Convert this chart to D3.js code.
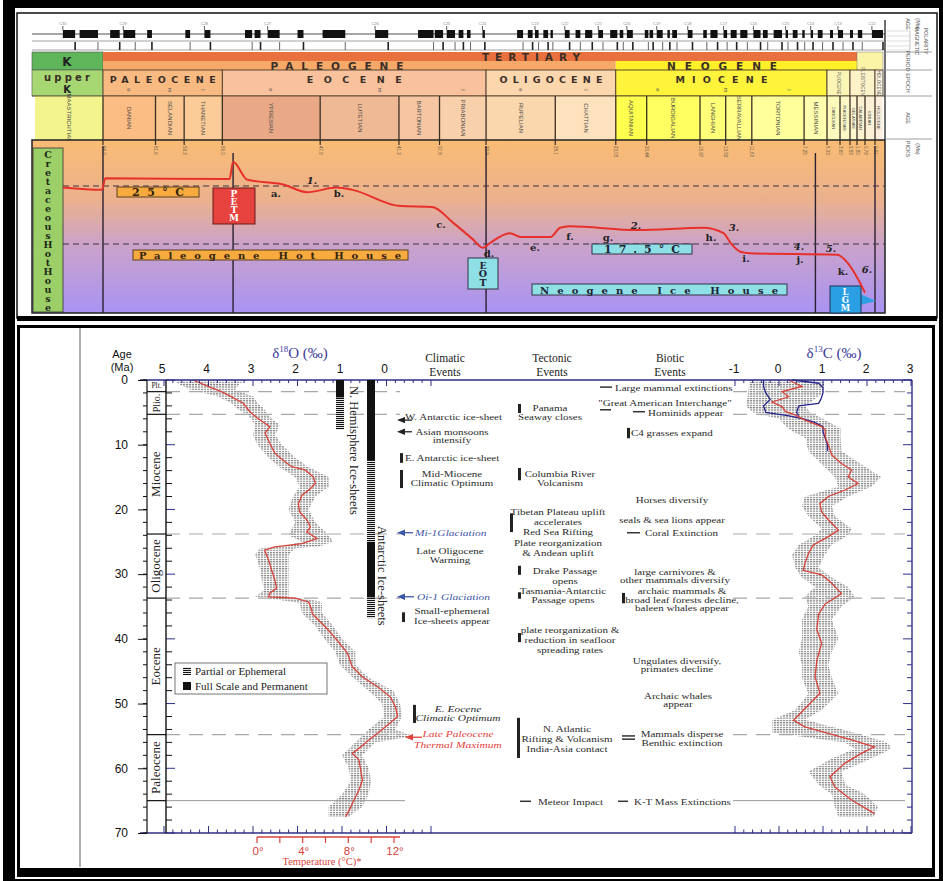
<!DOCTYPE html>
<html>
<head>
<meta charset="utf-8">
<script src="https://cdn.jsdelivr.net/npm/d3@7"></script>
<style>
  body { margin: 0; background: #fff; }
  svg { display: block; }
</style>
</head>
<body>
<div id="chart"></div>
<script>
// ---------- top panel: geologic time scale + temperature curve ----------
const stageNames = ["MAASTRICHTIAN", "DANIAN", "SELANDIAN", "THANETIAN", "YPRESIAN", "LUTETIAN",
  "BARTONIAN", "PRIABONIAN", "RUPELIAN", "CHATTIAN", "AQUITANIAN", "BURDIGALIAN", "LANGHIAN",
  "SERRAVALLIAN", "TORTONIAN", "MESSINIAN", "ZANCLEAN", "PIACENZIAN", "GELASIAN", "CALABRIAN",
  "IONIAN", "HOLOCENE"]
const stageBase = [72.1, 66, 61.6, 59.2, 56, 47.8, 41.2, 37.8, 33.9, 28.1, 23.03, 20.44, 15.97,
  13.82, 11.63, 7.25, 5.33, 3.6, 2.58, 1.8, 0.78, 0.0117]
const stageTickLabels = ["66.0", "61.6", "59.2", "56.0", "47.8", "41.2", "37.8", "33.9", "28.1", "23.03",
  "20.44", "15.97", "13.82", "11.63", "7.25", "5.33", "3.60", "2.58", "1.80", "0.78", "0.01"]
const stageColors = ["#f2f58e", "#fbbd84", "#fbc690", "#fccc98", "#e9a986", "#f0b995", "#f6c6a2",
  "#f9d0ac", "#fbd7ae", "#fde2bd", "#ffff4e", "#ffff62", "#ffff78", "#ffff8a", "#ffff9c", "#ffffae",
  "#fbf9bc", "#fbf8c6", "#fdf6cf", "#fcf2d2", "#fcf0d6", "#fdf0de"]

const epochNames = ["PALEOCENE", "EOCENE", "OLIGOCENE", "MIOCENE", "PLIOCENE", "PLEISTOCENE", "HOLOCENE"]
const epochBase = [66, 56, 33.9, 23.03, 5.33, 2.58, 0.0117]
const epochColors = ["#f9ba82", "#f9c29c", "#fcd6ad", "#fff33c", "#fbf6b6", "#fdf3c9", "#fdf3de"]
const subEpochs = [["e", 66, 61.6], ["m", 61.6, 59.2], ["l", 59.2, 56], ["e", 56, 47.8], ["m", 47.8, 37.8],
  ["l", 37.8, 33.9], ["e", 33.9, 28.1], ["l", 28.1, 23.03], ["e", 23.03, 15.97], ["m", 15.97, 11.63],
  ["l", 11.63, 5.33]]

// normal-polarity chrons [older, younger] in Ma
const normalChrons = [[69.6, 68.5], [68.1, 66.45], [65.4, 64.6], [64.3, 63.3], [62.3, 61.9], [59.1, 58.7],
  [57.5, 57.0], [54.1, 53.5], [53.3, 52.8], [52.2, 51.2], [49.7, 49.2], [47.6, 45.7], [43.2, 42.1],
  [39.6, 38.3], [38.2, 37.5], [37.2, 36.5], [36.2, 35.8], [35.5, 35.2], [34.2, 34.0], [31.3, 30.8],
  [30.4, 30.0], [29.8, 29.5], [29.1, 28.7], [28.5, 28.3], [27.3, 26.9], [26.4, 26.0], [25.6, 25.0],
  [24.5, 24.1], [23.5, 22.9], [22.7, 22.4], [22.1, 21.6], [20.6, 20.3], [20.2, 19.9], [19.6, 19.1],
  [18.7, 18.5], [18.3, 17.9], [17.0, 16.6], [15.7, 15.4], [15.1, 14.5], [14.0, 13.7], [13.4, 12.9],
  [12.6, 12.0], [11.5, 10.9], [10.7, 10.3], [9.8, 9.1], [8.8, 8.6], [8.2, 7.8], [7.4, 7.2], [6.7, 6.5],
  [6.1, 5.7], [4.93, 4.53], [3.87, 3.29], [2.58, 2.25], [1.69, 1.13], [0.25, 0]]

// global temperature curve [age Ma, deg C]
const tempCurve = [[69.6, 24.8], [66.1, 24.5], [65.8, 26.0], [55.4, 25.9], [55.1, 28.1], [53.9, 25.8],
  [50.9, 25.2], [48.9, 24.2], [46.4, 24.8], [45.1, 24.5], [41.1, 22.4], [38.4, 22.3], [36.7, 20.3],
  [35.0, 18.1], [34.15, 17.0], [33.6, 17.6], [31.9, 18.9], [31.0, 18.4], [28.5, 18.4], [27.7, 19.6],
  [26.9, 19.8], [21.2, 19.3], [15.7, 19.6], [14.0, 18.9], [13.4, 17.6], [12.6, 16.5], [11.8, 16.3],
  [4.0, 16.1], [2.78, 15.0], [1.8, 13.2], [0.78, 11.2]]
const tempRefs = [25, 17.5]
const eventLines = [66, 55.1, 33.9, 6.3, 0.0117]

// ---------- bottom panel: Cenozoic isotope records ----------
// smoothed d18O [age, permil]
const d18oMean = [[0, 4.35], [1, 4.01], [1.8, 3.71], [2.6, 3.48], [3.6, 3.22], [4.9, 3.07], [6, 2.88],
  [7.2, 2.62], [8.2, 2.73], [9.8, 2.62], [11.3, 2.51], [12.6, 2.29], [13.4, 2.13], [13.9, 1.83],
  [15, 1.64], [16, 1.6], [16.8, 1.71], [17.8, 1.9], [19.1, 1.98], [20.4, 1.95], [21.6, 1.79],
  [22.7, 1.71], [23.5, 1.79], [24.5, 1.56], [25.3, 1.9], [25.8, 2.51], [26.3, 2.74], [27.8, 2.65],
  [29.4, 2.58], [30.9, 2.51], [32.2, 2.47], [32.9, 2.62], [33.5, 2.65], [33.7, 2.05], [34.3, 1.75],
  [35.5, 1.68], [36.1, 1.67], [38.1, 1.38], [40.2, 1.11], [42.2, 0.88], [44.3, 0.77], [45.9, 0.54],
  [47.4, 0.2], [49, -0.09], [50.5, -0.2], [52, -0.25], [53.1, -0.06], [54.6, 0.2], [55.6, 0.39],
  [56.7, 0.58], [57.7, 0.77], [58.7, 0.62], [60.3, 0.58], [61.8, 0.54], [63.4, 0.62], [64.9, 0.73],
  [66.5, 0.84], [67.5, 0.92]]
// spread of the d18O data points [age, high, low]
const d18oSpread = [[0, 4.8, 3.1], [0.5, 4.7, 3.3], [1.5, 4.4, 3.4], [2.5, 3.8, 3.0], [3.5, 3.5, 2.9],
  [4.5, 3.35, 2.75], [5.5, 3.1, 2.65], [7, 2.95, 2.4], [8.5, 3.0, 2.5], [10, 2.9, 2.35], [12, 2.65, 2.05],
  [13.5, 2.4, 1.75], [15, 2.05, 1.3], [16.5, 1.95, 1.3], [18, 2.1, 1.6], [20, 2.2, 1.75], [22, 2.05, 1.6],
  [24, 2.2, 1.3], [25, 1.9, 1.2], [25.7, 2.3, 1.5], [26, 2.85, 2.05], [27, 2.95, 2.2], [29, 2.85, 2.2],
  [31, 2.8, 2.2], [32.5, 2.75, 2.2], [33.5, 2.95, 2.2], [34.2, 2.2, 1.5], [34.5, 1.95, 1.45],
  [36, 1.9, 1.45], [38, 1.6, 1.2], [40, 1.4, 1.0], [42, 1.15, 0.7], [44, 1.05, 0.7], [46, 0.75, 0.4],
  [48, 0.4, -0.15], [50, 0.1, -0.3], [52, 0.05, -0.35], [54, 0.4, -0.2], [55, 0.55, -0.6],
  [56, 0.7, 0.25], [58, 1.0, 0.55], [60, 0.85, 0.4], [62, 0.8, 0.35], [64, 1.0, 0.4], [66, 1.3, 0.55],
  [67.5, 1.3, 0.85]]
// smoothed d13C [age, permil]
const d13cMean = [[0, 0.22], [1, 0.52], [1.8, 0.07], [2.6, 0.22], [3.4, -0.16], [4.1, 0.07], [4.9, 0.15],
  [5.4, 0.37], [6.2, 0.59], [7.2, 0.97], [7.7, 1.05], [8.8, 1.05], [10, 1.12], [11.6, 1.2], [12.9, 1.42],
  [13.9, 1.65], [15, 1.57], [16, 1.8], [17, 1.5], [18, 1.12], [19.1, 0.93], [20.4, 0.97], [21.6, 1.12],
  [23.2, 1.35], [24.2, 1.12], [25.5, 0.78], [26.8, 0.67], [28.3, 0.59], [29.4, 0.55], [30.1, 0.97],
  [31.4, 1.2], [33, 1.42], [33.5, 1.31], [34.6, 1.05], [36.2, 0.9], [38.6, 0.86], [40.7, 0.97],
  [43.3, 0.86], [45.9, 0.82], [48.4, 0.93], [50.5, 0.63], [52.6, 0.33], [53.6, 0.59], [54.6, 1.12],
  [55.6, 1.65], [56.7, 2.17], [57.7, 1.87], [59.2, 1.5], [61.3, 1.16], [62.9, 1.27], [64.9, 1.65],
  [67, 2.17]]
// spread of the d13C data points [age, low, high]
const d13cSpread = [[0, -0.7, 1.0], [0.5, -0.68, 1.04], [2, -0.7, 1.0], [4, -0.75, 0.6], [5, -0.6, 0.7],
  [6, 0.0, 1.0], [7.5, 0.2, 1.4], [9, 0.6, 1.4], [11, 0.67, 1.42], [13, 0.97, 1.87], [15, 1.27, 2.32],
  [16.5, 1.35, 2.1], [18, 0.59, 1.57], [19.5, 0.52, 1.2], [21, 0.67, 1.27], [23, 0.97, 1.65],
  [24, 0.82, 1.57], [25.5, 0.45, 1.2], [27, 0.3, 1.04], [29, 0.37, 0.9], [30.5, 0.52, 1.2],
  [32, 0.82, 1.57], [33.5, 0.59, 1.72], [35, 0.67, 1.42], [37, 0.52, 1.2], [40, 0.52, 1.35],
  [42, 0.45, 1.2], [44, 0.52, 1.12], [46, 0.52, 1.2], [48.5, 0.67, 1.35], [51, 0.37, 0.97],
  [52.5, -0.15, 0.59], [54.5, -0.15, 1.72], [56, 1.5, 2.47], [57, 1.72, 2.55], [58.5, 1.2, 2.1],
  [60.5, 0.67, 1.42], [62.5, 0.9, 1.5], [64, 1.2, 1.95], [66, 1.27, 2.25], [67.5, 1.35, 2.15]]
// second (blue) d13C record, last ~11 Myr
const d13cBlueA = [[0, -0.35], [1, -0.35], [2, -0.3], [3, -0.2], [4, -0.35], [5, -0.3], [5.5, 0.2],
  [6, 0.55], [6.5, 0.8], [7.2, 1.0], [8, 1.0], [9, 1.05], [10, 1.1], [11, 1.1]]
const d13cBlueB = [[0, 0.3], [0.5, 0.9], [1.2, 1.0], [2, 1.0], [3, 0.95], [3.6, 0.9], [4, 0.45],
  [5, 0.4], [5.5, 0.45]]

const epochColumn = [["Plt.", 0, 1.8], ["Plio.", 1.8, 5.3], ["Miocene", 5.3, 23.8], ["Oligocene", 23.8, 33.7],
  ["Eocene", 33.7, 54.8], ["Paleocene", 54.8, 65]]
const dashedAges = [1.8, 5.3, 23.8, 33.7, 54.8]
const solidAges = [65]

// ice sheets [from, to, kind]
const nhIce = [[0, 2.7, "full"], [2.7, 7.7, "partial"]]
const antIce = [[0, 12.5, "full"], [12.5, 25, "partial"], [25, 33.6, "full"], [33.6, 36.8, "partial"]]

// events: text lines, age of first line, marker kind, marker age(s)
const climaticEvents = [
  { t: ["W. Antarctic ice-sheet"], age: 5.7, mark: "arrow", m: [6.2] },
  { t: ["Asian monsoons", "intensify"], age: 7.9, mark: "arrow", m: [8.0] },
  { t: ["E. Antarctic ice-sheet"], age: 12.06, mark: "bar", m: [11.3, 12.8] },
  { t: ["Mid-Miocene", "Climatic Optimum"], age: 14.5, mark: "bar", m: [13.9, 16.7] },
  { t: ["Mi-1Glaciation"], age: 23.6, mark: "arrowBlue", m: [23.6], kind: "glac" },
  { t: ["Late Oligocene", "Warming"], age: 26.3 },
  { t: ["Oi-1 Glaciation"], age: 33.5, mark: "arrowBlue", m: [33.5], kind: "glac" },
  { t: ["Small-ephemeral", "Ice-sheets appear"], age: 35.6, mark: "bar", m: [35.9, 37.4] },
  { t: ["E. Eocene", "Climatic Optimum"], age: 50.85, mark: "bar", m: [50.2, 53.0], kind: "ital" },
  { t: ["Late Paleocene", "Thermal Maximum"], age: 54.6, mark: "arrowRed", m: [55.2], kind: "petm" }
]
const tectonicEvents = [
  { t: ["Panama", "Seaway closes"], age: 4.2, mark: "bar", m: [3.7, 5.1] },
  { t: ["Columbia River", "Volcanism"], age: 14.4, mark: "bar", m: [13.6, 15.5] },
  { t: ["Tibetan Plateau uplift", "accelerates", "Red Sea Rifting"], age: 20.4, mark: "bar", m: [20.6, 23.5] },
  { t: ["Plate reorganization", "& Andean uplift"], age: 25.2 },
  { t: ["Drake Passage", "opens"], age: 29.4, mark: "bar", m: [28.7, 30.1] },
  { t: ["Tasmania-Antarctic", "Passage opens"], age: 32.5, mark: "bar", m: [32.8, 33.8] },
  { t: ["plate reorganization &", "reduction in seafloor", "spreading rates"], age: 38.5, mark: "bar", m: [39.1, 40.5] },
  { t: ["N. Atlantic", "Rifting & Volcanism", "India-Asia contact"], age: 53.8, mark: "bar", m: [52.2, 58.4] },
  { t: ["Meteor Impact"], age: 65.1, mark: "dash", m: [65.1] }
]
const bioticEvents = [
  { t: ["Large mammal extinctions"], age: 1.1, mark: "dash", m: [1.1] },
  { t: ["\"Great American Interchange\""], age: 3.55, mark: "dash", m: [4.6] },
  { t: ["Hominids appear"], age: 5.0, mark: "dash", m: [4.9] },
  { t: ["C4 grasses expand"], age: 8.2, mark: "bar", m: [7.4, 9.0] },
  { t: ["Horses diversify"], age: 18.5 },
  { t: ["seals & sea lions appear"], age: 21.6 },
  { t: ["Coral Extinction"], age: 23.6, mark: "dash", m: [23.6] },
  { t: ["large carnivores &", "other mammals diversify"], age: 29.6 },
  { t: ["archaic mammals &", "broad leaf forests decline,", "baleen whales appear"], age: 32.6, mark: "bar", m: [32.9, 34.5] },
  { t: ["Ungulates diversify,", "primates decline"], age: 43.3 },
  { t: ["Archaic whales", "appear"], age: 48.7 },
  { t: ["Mammals disperse", "Benthic extinction"], age: 54.6, mark: "dash2", m: [55.0, 55.5] },
  { t: ["K-T Mass Extinctions"], age: 65.1, mark: "dash", m: [65.1] }
]

// layout for event columns: [text x, anchor, marker x0, marker x1, line gap]
const climaticLayout = [[405, "start", 397, 412, 9], [452, "middle", 397, 412, 8.5], [405, "start", 400, 0, 9],
  [452, "middle", 400, 0, 9], [415, "start", 397, 413, 9], [450, "middle", 0, 0, 9], [417, "start", 397, 414, 9],
  [452, "middle", 402, 0, 10], [458, "middle", 413, 0, 9], [458, "middle", 405, 422, 11]]
const tectonicLayout = [[550, "middle", 518, 0, 9], [560, "middle", 518, 0, 9], [558, "middle", 510, 0, 10],
  [558, "middle", 0, 0, 10], [565, "middle", 518, 0, 10], [563, "middle", 518, 0, 9],
  [570, "middle", 518, 0, 10], [567, "middle", 517, 0, 10], [538, "start", 520, 531, 9]]
const bioticLayout = [[615, "start", 600, 612, 9], [665, "middle", 600, 611, 9], [648, "start", 633, 645, 9],
  [631, "start", 627, 0, 9], [672, "middle", 0, 0, 9], [672, "middle", 0, 0, 9], [645, "start", 627, 640, 9],
  [675, "middle", 0, 0, 8], [682, "middle", 622, 0, 8.5], [677, "middle", 0, 0, 8], [678, "middle", 0, 0, 8],
  [682, "middle", 622, 635, 9], [634, "start", 618, 628, 9]]

const d18oTickLabels = [5, 4, 3, 2, 1, 0]
const d13cTickLabels = [-1, 0, 1, 2, 3]
const tempTicks = [0, 2, 4, 6, 8, 10, 12]
const tempLabels = [0, 4, 8, 12]
const ageLabels = [0, 10, 20, 30, 40, 50, 60, 70]

const SERIF = "'Liberation Serif','Times New Roman',serif"
const SANS = "'Liberation Sans',Arial,sans-serif"
const BSERIF = "'DejaVu Serif',serif"
const WIDE = "'DejaVu Sans',sans-serif"
const NAVY = "#2f2f86"
const RED = "#d8423b"

const svg = d3.select("#chart").append("svg")
  .attr("width", 943)
  .attr("height", 881)
  .style("font-family", SERIF)

const defs = svg.append("defs")
const grad = defs.append("linearGradient").attr("id", "hot")
  .attr("x1", 0).attr("y1", 0).attr("x2", 0).attr("y2", 1)
grad.append("stop").attr("offset", "0%").attr("stop-color", "#f9bc74")
grad.append("stop").attr("offset", "35%").attr("stop-color", "#ebb18e")
grad.append("stop").attr("offset", "62%").attr("stop-color", "#c9a2cc")
grad.append("stop").attr("offset", "100%").attr("stop-color", "#a993f3")

const scat = defs.append("pattern").attr("id", "scat").attr("width", 3).attr("height", 2.3)
  .attr("patternUnits", "userSpaceOnUse")
scat.append("rect").attr("width", 2.2).attr("height", 1.2).attr("fill", "#868686")

const part = defs.append("pattern").attr("id", "partial").attr("width", 8).attr("height", 2)
  .attr("patternUnits", "userSpaceOnUse")
part.append("rect").attr("width", 8).attr("height", 1.1).attr("fill", "#111")

// ---- frames
svg.append("rect").attr("x", 3).attr("y", 0).attr("width", 12).attr("height", 881).attr("fill", "#000")
svg.append("rect").attr("x", 3).attr("y", 0).attr("width", 940).attr("height", 8).attr("fill", "#000")
svg.append("rect").attr("x", 939).attr("y", 0).attr("width", 4).attr("height", 881).attr("fill", "#000")
svg.append("rect").attr("x", 3).attr("y", 879).attr("width", 940).attr("height", 2).attr("fill", "#000")

// upright letters stacked top-to-bottom, one text run
// (vertical advance of an upright glyph is about 1.164 em in DejaVu Serif)
function stack(g, str, x, yTop, step, size, fill) {
  return g.append("text").attr("x", x).attr("y", yTop)
    .style("writing-mode", "vertical-rl").style("text-orientation", "upright")
    .style("letter-spacing", (step - 1.164 * size).toFixed(2) + "px")
    .attr("font-size", size).attr("font-weight", "bold").attr("font-family", BSERIF)
    .attr("fill", fill).text(str)
}

// =================== TOP PANEL ===================
const topG = svg.append("g")
topG.append("rect").attr("x", 17).attr("y", 13).attr("width", 920).attr("height", 305)
  .attr("fill", "#fff").attr("stroke", "#111").attr("stroke-width", 1.5)
topG.append("rect").attr("x", 17).attr("y", 316).attr("width", 920).attr("height", 5).attr("fill", "#000")

const xg = d3.scaleLinear()
  .domain([72.1, 66, 5.33, 3.6, 2.58, 1.8, 0.78, 0.0117, 0])
  .range([35, 103, 827, 840, 850, 857, 865, 875, 883])
const yT = d3.scaleLinear().domain([25, 17.5]).range([186, 244])

// magnetic polarity strip
topG.append("line").attr("x1", 32).attr("x2", 885).attr("y1", 34).attr("y2", 34)
  .attr("stroke", "#222").attr("stroke-width", 0.8)
topG.selectAll(".chron").data(normalChrons).join("rect")
  .attr("x", d => xg(d[0])).attr("width", d => Math.max(1, xg(d[1]) - xg(d[0])))
  .attr("y", 30).attr("height", 8).attr("fill", "#111")
topG.selectAll(".chtick").data(normalChrons.filter((d, i) => i % 3 === 0)).join("line")
  .attr("x1", d => xg(d[0])).attr("x2", d => xg(d[0])).attr("y1", 26).attr("y2", 30)
  .attr("stroke", "#333").attr("stroke-width", 0.8)
topG.selectAll(".chtxt").data(normalChrons.filter((d, i) => i % 3 === 0)).join("text")
  .attr("x", d => xg(d[0])).attr("y", 25).attr("text-anchor", "middle")
  .attr("font-size", 4).attr("fill", "#888").attr("font-family", SANS)
  .text((d, i) => "C" + (30 - i))
topG.append("line").attr("x1", 32).attr("x2", 885).attr("y1", 41).attr("y2", 41).attr("stroke", "#666").attr("stroke-width", 0.6)
topG.append("line").attr("x1", 32).attr("x2", 885).attr("y1", 50).attr("y2", 50).attr("stroke", "#666").attr("stroke-width", 0.6)
topG.selectAll(".row2").data(normalChrons).join("line")
  .attr("x1", d => xg(d[1])).attr("x2", d => xg(d[1])).attr("y1", 42).attr("y2", 50)
  .attr("stroke", "#222").attr("stroke-width", (d, i) => i % 2 ? 0.7 : 1.6)

// period rows
topG.append("rect").attr("x", 32).attr("y", 52).attr("width", 71).attr("height", 18).attr("fill", "#5fb559").attr("stroke", "#555").attr("stroke-width", 0.6)
topG.append("rect").attr("x", 32).attr("y", 70).attr("width", 71).attr("height", 26).attr("fill", "#a7d773").attr("stroke", "#555").attr("stroke-width", 0.6)
topG.append("rect").attr("x", xg(66)).attr("y", 52).attr("width", xg(1.8) - xg(66)).attr("height", 9).attr("fill", "#e8713d")
topG.append("rect").attr("x", xg(66)).attr("y", 61).attr("width", xg(23.03) - xg(66)).attr("height", 9).attr("fill", "#f6a968")
topG.append("rect").attr("x", xg(23.03)).attr("y", 61).attr("width", xg(1.8) - xg(23.03)).attr("height", 9).attr("fill", "#fff02a")
topG.append("rect").attr("x", xg(1.8)).attr("y", 52).attr("width", xg(0) - xg(1.8)).attr("height", 18).attr("fill", "#fbf4a6").attr("stroke", "#777").attr("stroke-width", 0.5)

function wideText(g, str, cx, y, len, size, fam, weight) {
  return g.append("text").attr("x", cx - len / 2).attr("y", y)
    .attr("textLength", len).attr("lengthAdjust", "spacing")
    .attr("font-size", size).attr("font-family", fam).attr("font-weight", weight || "bold")
    .attr("fill", "#3a2e28").text(str)
}
wideText(topG, "TERTIARY", 531, 60.5, 98, 10.5, WIDE)
wideText(topG, "PALEOGENE", 337, 69.5, 133, 10.5, WIDE)
wideText(topG, "NEOGENE", 722, 69.5, 110, 10.5, WIDE)
topG.append("text").attr("x", 67).attr("y", 65.5).attr("text-anchor", "middle").attr("font-size", 12)
  .attr("font-weight", "bold").attr("font-family", WIDE).attr("fill", "#222").text("K")
wideText(topG, "upper", 67, 81, 46, 10, WIDE)
topG.append("text").attr("x", 67).attr("y", 93).attr("text-anchor", "middle").attr("font-size", 10)
  .attr("font-weight", "bold").attr("font-family", WIDE).attr("fill", "#222").text("K")

// epoch row
topG.selectAll(".epoch").data(epochNames).join("rect")
  .attr("x", (d, i) => xg(epochBase[i]))
  .attr("width", (d, i) => xg(i + 1 < epochBase.length ? epochBase[i + 1] : 0) - xg(epochBase[i]))
  .attr("y", 70).attr("height", 26)
  .attr("fill", (d, i) => epochColors[i]).attr("stroke", "#4a3a2a").attr("stroke-width", 0.9)
const epochTextLen = [106, 95, 103, 92]
epochNames.forEach((name, i) => {
  const x0 = xg(epochBase[i])
  const x1 = xg(i + 1 < epochBase.length ? epochBase[i + 1] : 0)
  if (i < 4) {
    wideText(topG, name, (x0 + x1) / 2, 83, epochTextLen[i], 9.5, WIDE)
  } else {
    topG.append("text").attr("transform", `translate(${(x0 + x1) / 2 - 2},83) rotate(90)`)
      .attr("text-anchor", "middle").attr("font-size", 4.5).attr("font-family", SANS)
      .attr("fill", "#555").text(name)
  }
})
topG.selectAll(".sub").data(subEpochs).join("text")
  .attr("transform", d => `translate(${(xg(d[1]) + xg(d[2])) / 2 - 2},90) rotate(90)`)
  .attr("text-anchor", "middle").attr("font-size", 6).attr("font-family", SANS).attr("fill", "#555")
  .text(d => d[0])

// stage row
topG.selectAll(".stage").data(stageNames).join("rect")
  .attr("x", (d, i) => xg(stageBase[i]))
  .attr("width", (d, i) => xg(i + 1 < stageBase.length ? stageBase[i + 1] : 0) - xg(stageBase[i]))
  .attr("y", 96).attr("height", 44)
  .attr("fill", (d, i) => stageColors[i])
topG.selectAll(".stageTxt").data(stageNames).join("text")
  .attr("transform", (d, i) => {
    const cx = (xg(stageBase[i]) + xg(i + 1 < stageBase.length ? stageBase[i + 1] : 0)) / 2
    return `translate(${cx - 2},118) rotate(90)`
  })
  .attr("text-anchor", "middle").attr("font-size", (d, i) => i >= 16 ? 4.2 : 6)
  .attr("font-family", SANS).attr("fill", "#4a4a4a").text(d => d)
topG.selectAll(".stageLine").data(stageBase.slice(1)).join("line")
  .attr("x1", d => xg(d)).attr("x2", d => xg(d)).attr("y1", 96).attr("y2", 146)
  .attr("stroke", "#3b2e22").attr("stroke-width", 1.3)
topG.append("line").attr("x1", 32).attr("x2", 885).attr("y1", 96).attr("y2", 96).attr("stroke", "#4a3a2a").attr("stroke-width", 0.8)

// main temperature panel
topG.append("rect").attr("x", 32).attr("y", 140).attr("width", 853).attr("height", 173)
  .attr("fill", "url(#hot)").attr("stroke", "#222").attr("stroke-width", 1.5)
topG.selectAll(".stTick").data(stageBase.slice(1)).join("line")
  .attr("x1", d => xg(d)).attr("x2", d => xg(d)).attr("y1", 140).attr("y2", 145)
  .attr("stroke", "#3b2e22").attr("stroke-width", 1.2)
topG.selectAll(".stTickTxt").data(stageTickLabels).join("text")
  .attr("transform", (d, i) => `translate(${xg(stageBase[i + 1]) - 1.5},146) rotate(90)`)
  .attr("font-size", 4.5).attr("font-family", SANS).attr("fill", "#6a5a4a").text(d => d)

// right-hand label column
const rc = topG.append("g").attr("font-family", SANS).attr("fill", "#555")
rc.append("line").attr("x1", 885).attr("x2", 885).attr("y1", 20).attr("y2", 140).attr("stroke", "#222").attr("stroke-width", 1.3)
;[52, 70, 96, 139].forEach(y => rc.append("line").attr("x1", 885).attr("x2", 932).attr("y1", y).attr("y2", y).attr("stroke", "#888").attr("stroke-width", 0.8))
rc.append("line").attr("x1", 910).attr("x2", 910).attr("y1", 31).attr("y2", 50).attr("stroke", "#999").attr("stroke-width", 0.6)
;[31, 36, 41, 46, 50].forEach(y => rc.append("line").attr("x1", 887).attr("x2", 910).attr("y1", y).attr("y2", y).attr("stroke", "#bbb").attr("stroke-width", 0.5))
const colLabels = [["AGE", 906, 24], ["(Ma)", 916, 24], ["MAGNETIC", 915, 41], ["POLARITY", 924, 41],
  ["PERIOD", 906, 61], ["EPOCH", 906, 83], ["AGE", 906, 118], ["PICKS", 906, 149], ["(Ma)", 916, 149]]
colLabels.forEach(d => rc.append("text").attr("transform", `translate(${d[1]},${d[2]}) rotate(90)`)
  .attr("text-anchor", "middle").attr("font-size", 5.5).text(d[0]))

// Cretaceous hot house column
topG.append("rect").attr("x", 33).attr("y", 148).attr("width", 30).attr("height", 164)
  .attr("fill", "#9dcf68").attr("stroke", "#333").attr("stroke-width", 0.8)
stack(topG, "CretaceousHotHouse", 48, 149, 9.06, 9.5, "#1f2a18")

// reference lines
topG.selectAll(".vline").data(eventLines).join("line")
  .attr("x1", d => xg(d)).attr("x2", d => xg(d))
  .attr("y1", (d, i) => i === 1 || i === 3 ? 153 : 146).attr("y2", 313)
  .attr("stroke", "#2a2030").attr("stroke-width", 1.4)
topG.selectAll(".hline").data(tempRefs).join("line")
  .attr("x1", 63).attr("x2", 885).attr("y1", d => yT(d)).attr("y2", d => yT(d))
  .attr("stroke", "#3a3040").attr("stroke-width", 1).attr("stroke-dasharray", "6,4")

// annotation boxes
function box(g, x, y, w, h, fill, stroke) {
  g.append("rect").attr("x", x).attr("y", y).attr("width", w).attr("height", h)
    .attr("fill", fill).attr("stroke", stroke || "#333").attr("stroke-width", 1)
}
box(topG, 117, 187, 82, 10, "#f7ab3e", "#5a4020")
wideText(topG, "25°C", 158, 196, 52, 11, BSERIF).attr("fill", "#332211")
box(topG, 133, 250, 275, 10, "#f7ab3e", "#5a4020")
wideText(topG, "Paleogene Hot House", 270, 259, 262, 10, BSERIF).attr("fill", "#332211")
box(topG, 592, 244, 100, 10, "#8fe0e6", "#334")
wideText(topG, "17.5°C", 642, 253, 76, 11, BSERIF).attr("fill", "#223")
box(topG, 532, 284, 255, 11, "#8fe0e6", "#334")
wideText(topG, "Neogene Ice House", 659, 293.5, 238, 10, BSERIF).attr("fill", "#223")
box(topG, 213, 188, 42, 36, "#e6423e", "#6a1a1a")
stack(topG, "PETM", 234, 188.5, 8.6, 9, "#fff")
box(topG, 468, 258, 30, 31, "#8fe0e6", "#334")
stack(topG, "EOT", 483, 259.5, 9, 9.5, "#223")
topG.append("polygon").attr("points", "860,294 876,301 860,305").attr("fill", "#2a9fe3")
box(topG, 830, 286, 31, 27, "#2a9fe3", "#235")
stack(topG, "LGM", 845.5, 286.5, 8.2, 8.5, "#fff")

// temperature curve
topG.append("path").datum(tempCurve)
  .attr("d", d3.line().x(d => xg(d[0])).y(d => yT(d[1])).curve(d3.curveMonotoneX))
  .attr("fill", "none").attr("stroke", "#e8302a").attr("stroke-width", 2)

const letters = [["1.", 312, 184], ["a.", 276, 197], ["b.", 339, 197], ["c.", 441, 228], ["d.", 489, 257],
  ["e.", 535, 251], ["f.", 570, 240], ["g.", 608, 241], ["2.", 636, 229], ["h.", 711, 241], ["3.", 734, 231],
  ["i.", 746, 262], ["j.", 800, 263], ["4.", 799, 250], ["5.", 831, 252], ["k.", 843, 275], ["6.", 867, 273]]
letters.forEach(d => topG.append("text").attr("x", d[1]).attr("y", d[2]).attr("text-anchor", "middle")
  .attr("font-size", 10).attr("font-weight", "bold").attr("font-family", BSERIF)
  .attr("font-style", /[0-9]/.test(d[0]) ? "italic" : "normal").attr("fill", "#222").text(d[0]))

// =================== BOTTOM PANEL ===================
const bot = svg.append("g")
bot.append("rect").attr("x", 18.5).attr("y", 326.5).attr("width", 915).attr("height", 543)
  .attr("fill", "#fff").attr("stroke", "#000").attr("stroke-width", 3)
bot.append("rect").attr("x", 17).attr("y", 868).attr("width", 918).attr("height", 9).attr("fill", "#000")
bot.append("line").attr("x1", 80).attr("x2", 80).attr("y1", 328).attr("y2", 867)
  .attr("stroke", "#b0b0b0").attr("stroke-width", 2)

const yAge = d3.scaleLinear().domain([0, 70]).range([380, 833])
const xO = d3.scaleLinear().domain([5, -1]).range([164, 431])
const xC = d3.scaleLinear().domain([-1, 3]).range([735, 911])
const xTemp = d3.scaleLinear().domain([0, 12]).range([257, 394])

// scatter spreads
bot.append("path").datum(d18oSpread)
  .attr("d", d3.area().y(d => yAge(d[0])).x0(d => xO(d[1])).x1(d => xO(d[2])))
  .attr("fill", "url(#scat)")
bot.append("path").datum(d13cSpread)
  .attr("d", d3.area().y(d => yAge(d[0])).x0(d => xC(d[1])).x1(d => xC(d[2])))
  .attr("fill", "url(#scat)")

// boundary lines
dashedAges.forEach(a => {
  ;[[166, 400], [733, 905]].forEach(s => bot.append("line").attr("x1", s[0]).attr("x2", s[1])
    .attr("y1", yAge(a)).attr("y2", yAge(a)).attr("stroke", "#a8a8a8").attr("stroke-width", 1.2)
    .attr("stroke-dasharray", "14,9"))
})
solidAges.forEach(a => {
  ;[[166, 405], [733, 905]].forEach(s => bot.append("line").attr("x1", s[0]).attr("x2", s[1])
    .attr("y1", yAge(a)).attr("y2", yAge(a)).attr("stroke", "#999").attr("stroke-width", 1))
})

// smoothed curves
bot.append("path").datum(d18oMean)
  .attr("d", d3.line().x(d => xO(d[1])).y(d => yAge(d[0])))
  .attr("fill", "none").attr("stroke", RED).attr("stroke-width", 1.3)
;[d13cBlueA, d13cBlueB].forEach(s => bot.append("path").datum(s)
  .attr("d", d3.line().x(d => xC(d[1])).y(d => yAge(d[0])))
  .attr("fill", "none").attr("stroke", "#25258a").attr("stroke-width", 1.3))
bot.append("path").datum(d13cMean)
  .attr("d", d3.line().x(d => xC(d[1])).y(d => yAge(d[0])))
  .attr("fill", "none").attr("stroke", RED).attr("stroke-width", 1.3)

// horizontal axis lines
;[380, 833].forEach(y => bot.append("line").attr("x1", 140).attr("x2", 912).attr("y1", y).attr("y2", y)
  .attr("stroke", NAVY).attr("stroke-width", 1.4))
bot.append("line").attr("x1", 912).attr("x2", 912).attr("y1", 380).attr("y2", 833).attr("stroke", NAVY).attr("stroke-width", 1.4)

function isoTicks(scale, lo, hi) {
  const vals = d3.range(Math.round((hi - lo) / 0.2) + 1).map(i => +(lo + i * 0.2).toFixed(1))
  bot.selectAll(null).data(vals).join("line")
    .attr("x1", d => scale(d)).attr("x2", d => scale(d))
    .attr("y1", 380).attr("y2", d => 380 + (Number.isInteger(d) ? 6 : 3))
    .attr("stroke", NAVY).attr("stroke-width", 1)
  bot.selectAll(null).data(vals).join("line")
    .attr("x1", d => scale(d)).attr("x2", d => scale(d))
    .attr("y1", 833).attr("y2", d => 833 - (Number.isInteger(d) ? 7 : 3.5))
    .attr("stroke", NAVY).attr("stroke-width", 1)
}
isoTicks(xO, -1, 5)
isoTicks(xC, -1, 3)

bot.selectAll(".oLab").data(d18oTickLabels).join("text")
  .attr("x", d => xO(d) - 2).attr("y", 373).attr("text-anchor", "middle")
  .attr("font-family", SANS).attr("font-size", 12).attr("fill", "#111").text(d => d)
bot.selectAll(".cLab").data(d13cTickLabels).join("text")
  .attr("x", d => xC(d) - 1).attr("y", 373).attr("text-anchor", "middle")
  .attr("font-family", SANS).attr("font-size", 12).attr("fill", "#111").text(d => d)

const ot = bot.append("text").attr("x", 300).attr("y", 358).attr("text-anchor", "middle")
  .attr("font-size", 15).attr("fill", "#3c3c9c")
ot.append("tspan").text("δ")
ot.append("tspan").attr("font-size", 9).attr("dy", -6).text("18")
ot.append("tspan").attr("dy", 6).text("O (‰)")
const ct = bot.append("text").attr("x", 834).attr("y", 358).attr("text-anchor", "middle")
  .attr("font-size", 15).attr("fill", "#3c3c9c")
ct.append("tspan").text("δ")
ct.append("tspan").attr("font-size", 9).attr("dy", -6).text("13")
ct.append("tspan").attr("dy", 6).text("C (‰)")

// age axis
const ageTitle = bot.append("text").attr("text-anchor", "middle").attr("font-family", SANS)
  .attr("font-size", 11).attr("fill", "#111")
ageTitle.append("tspan").attr("x", 122).attr("y", 357.5).text("Age")
ageTitle.append("tspan").attr("x", 122).attr("y", 370.5).text("(Ma)")
const ageAxis = bot.append("g").attr("transform", "translate(147,0)")
  .call(d3.axisLeft(yAge).tickValues(ageLabels).tickSize(9).tickPadding(10))
ageAxis.select(".domain").remove()
ageAxis.selectAll("text").attr("font-family", SANS).attr("font-size", 12).attr("fill", "#111")
ageAxis.selectAll("line").attr("stroke", "#111")
const minorAges = d3.range(0, 71, 2)
bot.selectAll(".lt").data(minorAges).join("line")
  .attr("x1", 143).attr("x2", 147).attr("y1", d => yAge(d)).attr("y2", d => yAge(d)).attr("stroke", "#111")
bot.selectAll(".rt").data(minorAges).join("line")
  .attr("x1", 166).attr("x2", d => d % 10 ? 172 : 175).attr("y1", d => yAge(d)).attr("y2", d => yAge(d))
  .attr("stroke", d => d % 10 ? "#111" : NAVY)
bot.selectAll(".rr").data(minorAges).join("line")
  .attr("x1", d => d % 10 ? 907 : 903).attr("x2", 912).attr("y1", d => yAge(d)).attr("y2", d => yAge(d))
  .attr("stroke", NAVY)

// epoch column
bot.append("line").attr("x1", 147).attr("x2", 147).attr("y1", 380).attr("y2", 833).attr("stroke", "#111").attr("stroke-width", 1.2)
bot.append("line").attr("x1", 166).attr("x2", 166).attr("y1", 380).attr("y2", 833).attr("stroke", "#111").attr("stroke-width", 1.4)
bot.selectAll(".eb").data(epochColumn).join("line")
  .attr("x1", 147).attr("x2", 166).attr("y1", d => yAge(d[2])).attr("y2", d => yAge(d[2]))
  .attr("stroke", "#111").attr("stroke-width", 1.2)
epochColumn.forEach((d, i) => {
  const cy = (yAge(d[1]) + yAge(d[2])) / 2
  if (i === 0) {
    bot.append("text").attr("x", 156.5).attr("y", cy + 2.5).attr("text-anchor", "middle")
      .attr("font-size", 7.5).attr("fill", "#222").text(d[0])
  } else {
    bot.append("text").attr("transform", `translate(160,${cy}) rotate(-90)`).attr("text-anchor", "middle")
      .attr("font-size", i === 1 ? 10 : 13).attr("fill", "#222").text(d[0])
  }
})

// ice sheets
function iceBar(data, x) {
  bot.selectAll(null).data(data).join("rect")
    .attr("x", x).attr("width", 8)
    .attr("y", d => yAge(d[0])).attr("height", d => yAge(d[1]) - yAge(d[0]))
    .attr("fill", d => d[2] === "full" ? "#111" : "url(#partial)")
}
iceBar(nhIce, 336)
iceBar(antIce, 367)
bot.append("text").attr("transform", "translate(350,386) rotate(90)").attr("font-size", 12.5)
  .attr("fill", "#222").text("N. Hemisphere Ice-sheets")
bot.append("text").attr("transform", "translate(378,526) rotate(90)").attr("font-size", 12.5)
  .attr("fill", "#222").text("Antarctic Ice-sheets")

// legend
bot.append("rect").attr("x", 175).attr("y", 663).attr("width", 152).attr("height", 31)
  .attr("fill", "#fff").attr("stroke", "#666").attr("stroke-width", 0.9)
bot.append("rect").attr("x", 183).attr("y", 667).attr("width", 8).attr("height", 8).attr("fill", "url(#partial)")
bot.append("rect").attr("x", 183).attr("y", 682).attr("width", 8).attr("height", 8).attr("fill", "#111")
bot.append("text").attr("x", 195).attr("y", 675).attr("font-size", 11).attr("fill", "#222").text("Partial or Ephemeral")
bot.append("text").attr("x", 195).attr("y", 690).attr("font-size", 11).attr("fill", "#222").text("Full Scale and Permanent")

// column headers
;[["Climatic", 445], ["Tectonic", 552], ["Biotic", 670]].forEach(d => {
  const h = bot.append("text").attr("text-anchor", "middle").attr("font-size", 11.5).attr("fill", "#222")
  h.append("tspan").attr("x", d[1]).attr("y", 362).text(d[0])
  h.append("tspan").attr("x", d[1]).attr("y", 375.5).text("Events")
})

// event columns (text is slightly squashed vertically, like the source figure)
const SQ = 0.8
function arrowLeft(x0, x1, y, color) {
  bot.append("line").attr("x1", x0 + 7).attr("x2", x1).attr("y1", y).attr("y2", y).attr("stroke", color).attr("stroke-width", 1.3)
  bot.append("polygon").attr("points", `${x0},${y} ${x0 + 8},${y - 3.2} ${x0 + 8},${y + 3.2}`).attr("fill", color)
}
function drawEvents(list, layout) {
  list.forEach((ev, i) => {
    const [tx, anchor, mx0, mx1, gap] = layout[i]
    const y0 = yAge(ev.age)
    let color = "#2a2a2a", style = "normal"
    if (ev.kind === "glac") { color = "#3c55a5"; style = "italic" }
    if (ev.kind === "ital") style = "italic"
    if (ev.kind === "petm") { color = "#e2403a"; style = "italic" }
    const txt = bot.append("text").attr("transform", `translate(${tx},${y0}) scale(1,${SQ})`)
      .attr("text-anchor", anchor).attr("font-size", ev.kind ? 11.5 : 11)
      .attr("font-style", style).attr("fill", color)
    ev.t.forEach((line, j) => txt.append("tspan").attr("x", 0).attr("y", (j * gap + 3.4) / SQ).text(line))
    if (ev.mark === "bar") {
      bot.append("rect").attr("x", mx0).attr("width", 3).attr("y", yAge(ev.m[0]))
        .attr("height", yAge(ev.m[1]) - yAge(ev.m[0])).attr("fill", "#222")
    } else if (ev.mark === "dash" || ev.mark === "dash2") {
      ev.m.forEach(a => bot.append("line").attr("x1", mx0).attr("x2", mx1).attr("y1", yAge(a)).attr("y2", yAge(a))
        .attr("stroke", "#333").attr("stroke-width", 1.5))
    } else if (ev.mark === "arrow") {
      arrowLeft(mx0, mx1, yAge(ev.m[0]), "#222")
    } else if (ev.mark === "arrowBlue") {
      arrowLeft(mx0, mx1, yAge(ev.m[0]), "#3c55a5")
    } else if (ev.mark === "arrowRed") {
      arrowLeft(mx0, mx1, yAge(ev.m[0]), "#e2403a")
    }
  })
}
drawEvents(climaticEvents, climaticLayout)
drawEvents(tectonicEvents, tectonicLayout)
drawEvents(bioticEvents, bioticLayout)

// temperature axis
bot.append("line").attr("x1", xTemp(0)).attr("x2", xTemp(12) + 6).attr("y1", 837).attr("y2", 837)
  .attr("stroke", RED).attr("stroke-width", 1.3)
bot.selectAll(".tt").data(tempTicks).join("line")
  .attr("x1", d => xTemp(d)).attr("x2", d => xTemp(d)).attr("y1", 837).attr("y2", 843)
  .attr("stroke", RED).attr("stroke-width", 1.2)
bot.selectAll(".tl").data(tempLabels).join("text")
  .attr("x", d => xTemp(d) + 1).attr("y", 855).attr("text-anchor", "middle")
  .attr("font-family", SANS).attr("font-size", 11.5).attr("fill", RED).text(d => d + "°")
bot.append("text").attr("x", 322).attr("y", 865).attr("text-anchor", "middle")
  .attr("font-size", 10.5).attr("fill", RED).text("Temperature (°C)*")
</script>
</body>
</html>
